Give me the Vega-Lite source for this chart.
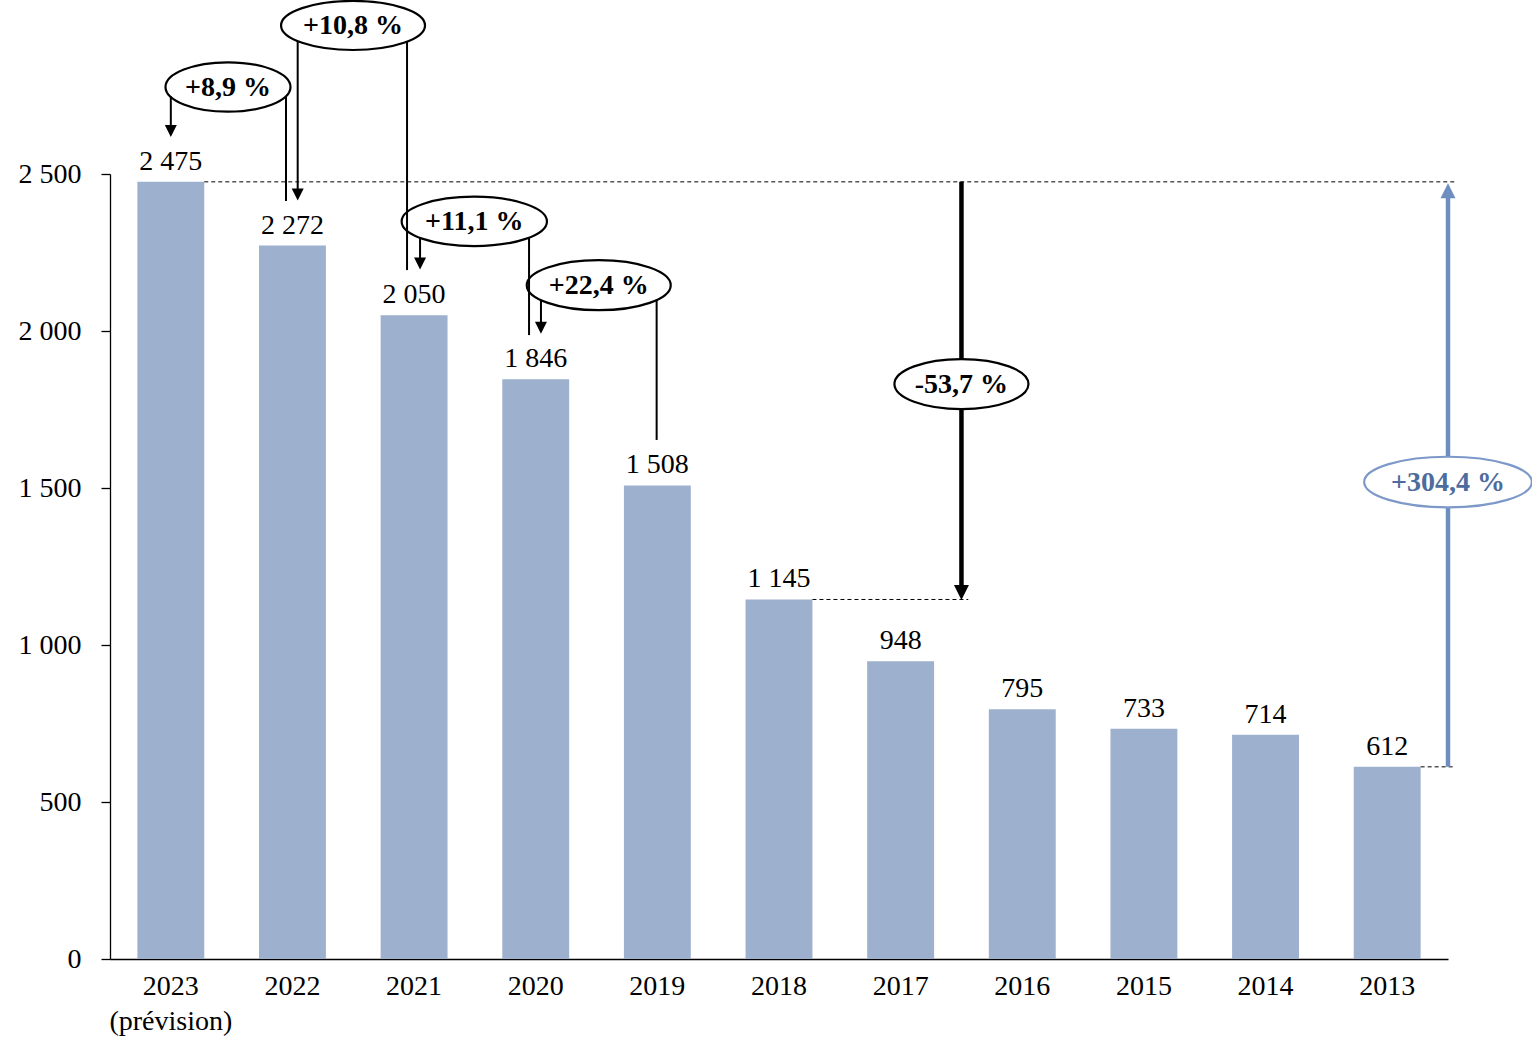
{
  "$schema": "https://vega.github.io/schema/vega-lite/v6.json",
  "autosize": {"type": "none"},
  "width": 1338,
  "height": 785,
  "padding": {"left": 110, "top": 174, "right": 84, "bottom": 97},
  "config": {
    "view": {"stroke": null},
    "font": "Liberation Serif",
    "locale": {"number": {"decimal": ",", "thousands": " ", "grouping": [3], "currency": ["", " €"]}}
  },
  "datasets": {
    "bars": [
      {"year": "2023", "value": 2475},
      {"year": "2022", "value": 2272},
      {"year": "2021", "value": 2050},
      {"year": "2020", "value": 1846},
      {"year": "2019", "value": 1508},
      {"year": "2018", "value": 1145},
      {"year": "2017", "value": 948},
      {"year": "2016", "value": 795},
      {"year": "2015", "value": 733},
      {"year": "2014", "value": 714},
      {"year": "2013", "value": 612}
    ],
    "dashes": [
      {"x": 0.275, "x2": 10.557, "y": 2475},
      {"x": 5.275, "x2": 6.556, "y": 1145},
      {"x": 10.275, "x2": 10.55, "y": 612}
    ],
    "thick": [
      {"ann": "-53,7 %", "x": 6.5, "y": 2475, "y2": 1185},
      {"ann": "+304,4 %", "x": 10.5, "y": 612, "y2": 2425}
    ],
    "ellipses": [
      {"label": "+8,9 %", "x": 0.47, "y": 2777},
      {"label": "+10,8 %", "x": 1.498, "y": 2973},
      {"label": "+11,1 %", "x": 2.495, "y": 2349},
      {"label": "+22,4 %", "x": 3.518, "y": 2146},
      {"label": "-53,7 %", "x": 6.5, "y": 1831},
      {"label": "+304,4 %", "x": 10.5, "y": 1519}
    ],
    "connectors": [
      {"ann": "+8,9 %", "x": 0.947, "y": 2748, "y2": 2414},
      {"ann": "+8,9 %", "x": 0.0, "y": 2748, "y2": 2650},
      {"ann": "+10,8 %", "x": 1.942, "y": 2922, "y2": 2194},
      {"ann": "+10,8 %", "x": 1.043, "y": 2923, "y2": 2450},
      {"ann": "+11,1 %", "x": 2.945, "y": 2298, "y2": 1987},
      {"ann": "+11,1 %", "x": 2.049, "y": 2297, "y2": 2230},
      {"ann": "+22,4 %", "x": 3.994, "y": 2099, "y2": 1653},
      {"ann": "+22,4 %", "x": 3.043, "y": 2099, "y2": 2025}
    ],
    "heads": [
      {"ann": "+8,9 %", "x": 0.0, "y": 2637, "dir": "down"},
      {"ann": "+10,8 %", "x": 1.043, "y": 2435, "dir": "down"},
      {"ann": "+11,1 %", "x": 2.049, "y": 2215, "dir": "down"},
      {"ann": "+22,4 %", "x": 3.043, "y": 2010, "dir": "down"},
      {"ann": "-53,7 %", "x": 6.5, "y": 1167, "dir": "down"},
      {"ann": "+304,4 %", "x": 10.5, "y": 2447, "dir": "up"}
    ]
  },
  "layer": [
    {
      "layer": [
        {
          "data": {"name": "bars"},
          "mark": {"type": "bar", "color": "#9DB0CE"},
          "encoding": {
            "x": {
              "field": "year", "type": "nominal", "sort": null,
              "scale": {"paddingInner": 0.45, "paddingOuter": 0.225},
              "axis": {
                "title": null, "ticks": false, "tickSize": 0, "labelAngle": 0,
                "labelFontSize": 28, "labelColor": "black", "labelPadding": 13,
                "labelBaseline": "top", "labelLineHeight": 35,
                "labelExpr": "datum.value == '2023' ? ['2023', '(prévision)'] : datum.value",
                "domainColor": "black", "domainWidth": 1.3
              }
            },
            "y": {
              "field": "value", "type": "quantitative",
              "scale": {"domain": [0, 2500], "nice": false},
              "axis": {
                "title": null, "grid": false, "values": [0, 500, 1000, 1500, 2000, 2500],
                "tickSize": 9, "tickColor": "black", "tickWidth": 1.3,
                "labelPadding": 20, "labelFontSize": 28, "labelColor": "black",
                "labelExpr": "replace(format(datum.value, ','), ',', ' ')",
                "domainColor": "black", "domainWidth": 1.3
              }
            }
          }
        },
        {
          "data": {"name": "bars"},
          "mark": {"type": "text", "fontSize": 28, "color": "black", "baseline": "alphabetic", "dy": -12},
          "encoding": {
            "x": {"field": "year", "type": "nominal", "sort": null},
            "y": {"field": "value", "type": "quantitative", "title": null},
            "text": {"field": "value", "type": "quantitative", "format": ",d"}
          }
        }
      ]
    },
    {
      "layer": [
        {
          "data": {"name": "dashes"},
          "mark": {"type": "rule", "color": "black", "strokeWidth": 1, "strokeDash": [4, 3]},
          "encoding": {
            "x": {"field": "x", "type": "quantitative", "scale": {"domain": [-0.5, 10.5], "nice": false, "zero": false}, "axis": null},
            "x2": {"field": "x2"},
            "y": {"field": "y", "type": "quantitative", "title": null}
          }
        },
        {
          "data": {"name": "thick"},
          "mark": {"type": "rule", "strokeWidth": 4.5, "strokeCap": "butt"},
          "encoding": {
            "x": {"field": "x", "type": "quantitative", "scale": {"domain": [-0.5, 10.5], "nice": false, "zero": false}, "axis": null},
            "y": {"field": "y", "type": "quantitative", "title": null},
            "y2": {"field": "y2"},
            "color": {"condition": {"test": "datum.ann == '+304,4 %'", "value": "#6D8EBF"}, "value": "black"}
          }
        },
        {
          "data": {"name": "ellipses"},
          "mark": {"type": "point", "filled": false, "fill": "white", "fillOpacity": 1, "opacity": 1, "strokeWidth": 2.2, "size": 28224},
          "encoding": {
            "x": {"field": "x", "type": "quantitative", "scale": {"domain": [-0.5, 10.5], "nice": false, "zero": false}, "axis": null},
            "y": {"field": "y", "type": "quantitative", "title": null},
            "shape": {
              "field": "label", "type": "nominal", "legend": null,
              "scale": {
                "domain": ["+8,9 %", "+10,8 %", "+11,1 %", "+22,4 %", "-53,7 %", "+304,4 %"],
                "range": [
                  "M -0.744 0 C -0.744 -0.162 -0.411 -0.294 0 -0.294 C 0.411 -0.294 0.744 -0.162 0.744 0 C 0.744 0.162 0.411 0.294 0 0.294 C -0.411 0.294 -0.744 0.162 -0.744 0 Z",
                  "M -0.857 0 C -0.857 -0.161 -0.473 -0.292 0 -0.292 C 0.473 -0.292 0.857 -0.161 0.857 0 C 0.857 0.161 0.473 0.292 0 0.292 C -0.473 0.292 -0.857 0.161 -0.857 0 Z",
                  "M -0.865 0 C -0.865 -0.162 -0.478 -0.294 0 -0.294 C 0.478 -0.294 0.865 -0.162 0.865 0 C 0.865 0.162 0.478 0.294 0 0.294 C -0.478 0.294 -0.865 0.162 -0.865 0 Z",
                  "M -0.857 0 C -0.857 -0.165 -0.473 -0.298 0 -0.298 C 0.473 -0.298 0.857 -0.165 0.857 0 C 0.857 0.165 0.473 0.298 0 0.298 C -0.473 0.298 -0.857 0.165 -0.857 0 Z",
                  "M -0.798 0 C -0.798 -0.165 -0.441 -0.298 0 -0.298 C 0.441 -0.298 0.798 -0.165 0.798 0 C 0.798 0.165 0.441 0.298 0 0.298 C -0.441 0.298 -0.798 0.165 -0.798 0 Z",
                  "M -0.998 0 C -0.998 -0.166 -0.551 -0.301 0 -0.301 C 0.551 -0.301 0.998 -0.166 0.998 0 C 0.998 0.166 0.551 0.301 0 0.301 C -0.551 0.301 -0.998 0.166 -0.998 0 Z"
                ]
              }
            },
            "stroke": {"condition": {"test": "datum.label == '+304,4 %'", "value": "#7D99C9"}, "value": "black"}
          }
        },
        {
          "data": {"name": "connectors"},
          "mark": {"type": "rule", "color": "black", "strokeWidth": 2, "strokeCap": "butt"},
          "encoding": {
            "x": {"field": "x", "type": "quantitative", "scale": {"domain": [-0.5, 10.5], "nice": false, "zero": false}, "axis": null},
            "y": {"field": "y", "type": "quantitative", "title": null},
            "y2": {"field": "y2"}
          }
        },
        {
          "data": {"name": "heads"},
          "mark": {"type": "point", "filled": true, "opacity": 1, "strokeWidth": 0},
          "encoding": {
            "x": {"field": "x", "type": "quantitative", "scale": {"domain": [-0.5, 10.5], "nice": false, "zero": false}, "axis": null},
            "y": {"field": "y", "type": "quantitative", "title": null},
            "shape": {"condition": {"test": "datum.dir == 'up'", "value": "M -1 1 L 1 1 L 0 -1 Z"}, "value": "M -1 -1 L 1 -1 L 0 1 Z"},
            "size": {"condition": {"test": "datum.ann == '-53,7 %' || datum.ann == '+304,4 %'", "value": 225}, "value": 144},
            "color": {"condition": {"test": "datum.ann == '+304,4 %'", "value": "#6D8EBF"}, "value": "black"}
          }
        },
        {
          "data": {"name": "ellipses"},
          "mark": {"type": "text", "fontSize": 28, "fontWeight": "bold", "baseline": "alphabetic", "dy": 9},
          "encoding": {
            "x": {"field": "x", "type": "quantitative", "scale": {"domain": [-0.5, 10.5], "nice": false, "zero": false}, "axis": null},
            "y": {"field": "y", "type": "quantitative", "title": null},
            "text": {"field": "label"},
            "color": {"condition": {"test": "datum.label == '+304,4 %'", "value": "#4E6B9E"}, "value": "black"}
          }
        }
      ]
    }
  ],
  "resolve": {"scale": {"x": "independent"}}
}
